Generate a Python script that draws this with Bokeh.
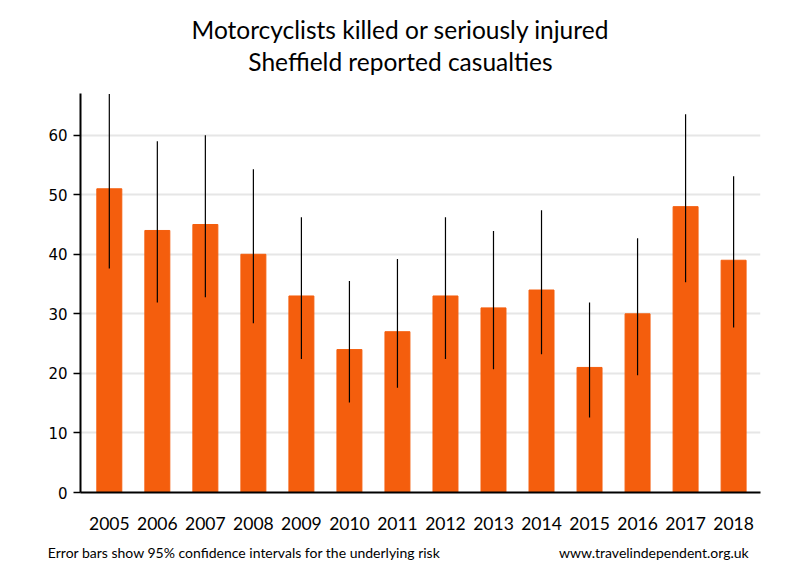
from bokeh.plotting import figure
from bokeh.models import ColumnDataSource, FixedTicker, Range1d, Label, LinearAxis
from bokeh.layouts import column
from bokeh.embed import file_html
from bokeh.resources import INLINE

years = [2005, 2006, 2007, 2008, 2009, 2010, 2011, 2012, 2013, 2014, 2015, 2016, 2017, 2018]
casualties = [51, 44, 45, 40, 33, 24, 27, 33, 31, 34, 21, 30, 48, 39]
ci_low = [37.6, 31.9, 32.8, 28.4, 22.4, 15.1, 17.6, 22.4, 20.7, 23.2, 12.6, 19.7, 35.3, 27.7]
ci_high = [66.9, 59.0, 60.0, 54.3, 46.2, 35.5, 39.2, 46.2, 43.9, 47.4, 31.9, 42.7, 63.5, 53.1]
y_ticks = [0, 10, 20, 30, 40, 50, 60]

title1 = "Motorcyclists killed or seriously injured"
title2 = "Sheffield reported casualties"
note_left = "Error bars show 95% confidence intervals for the underlying risk"
note_right = "www.travelindependent.org.uk"

W = 790
FRAME_L, FRAME_R = 80, 760
font = "Lato"

# header: its frame is aligned with the chart frame by the column layout
header = figure(width=W, height=85, output_backend="svg", toolbar_location=None,
                x_range=Range1d(FRAME_L, FRAME_R), y_range=Range1d(85, 0),
                min_border=0, x_axis_type=None, y_axis_type=None)
header.outline_line_color = None
header.xgrid.visible = False
header.ygrid.visible = False
header.add_layout(Label(x=400, y=29, text=title1, text_align="center", text_baseline="middle",
                        text_font=font, text_font_size="24.5px", text_color="black"))
header.add_layout(Label(x=400, y=61, text=title2, text_align="center", text_baseline="middle",
                        text_font=font, text_font_size="24.5px", text_color="black"))

src = ColumnDataSource(dict(x=years, top=casualties, lo=ci_low, hi=ci_high))

p = figure(width=W, height=490, output_backend="svg", toolbar_location=None,
           x_range=Range1d(2004.4, 2018.56), y_range=Range1d(0, 67),
           min_border_left=80, min_border_right=30, min_border_top=8, min_border_bottom=83)
p.outline_line_color = None

p.vbar(x="x", top="top", width=0.52, source=src, color="#F45E0D")
p.segment(x0="x", x1="x", y0="lo", y1="hi", source=src, line_color="black", line_width=1.2)

p.xgrid.visible = False
p.ygrid.grid_line_color = "#e6e6e6"
p.ygrid.grid_line_width = 2

p.xaxis.ticker = FixedTicker(ticks=years)
p.xaxis.major_tick_line_color = None
p.xaxis.minor_tick_line_color = None
p.xaxis.axis_line_width = 2
p.xaxis.axis_line_color = "black"
p.xaxis.major_label_text_font = font
p.xaxis.major_label_text_font_size = "17.5px"
p.xaxis.major_label_text_color = "black"
p.xaxis.major_label_standoff = 18

p.yaxis.ticker = FixedTicker(ticks=y_ticks)
p.yaxis.minor_tick_line_color = None
p.yaxis.major_tick_in = 0
p.yaxis.major_tick_out = 7
p.yaxis.major_tick_line_width = 1.5
p.yaxis.axis_line_width = 2
p.yaxis.axis_line_color = "black"
p.yaxis.major_label_text_font = "DejaVu Sans"
p.yaxis.major_label_text_font_size = "15px"
p.yaxis.major_label_text_color = "black"
p.yaxis.major_label_standoff = 6

# footer notes as a label-only axis below the year axis (not clipped by the frame)
note_left_pos = 2007.81
note_right_pos = 2016.34
notes = LinearAxis(ticker=FixedTicker(ticks=[note_left_pos, note_right_pos]),
                   major_label_overrides={note_left_pos: note_left, note_right_pos: note_right})
notes.axis_line_color = None
notes.major_tick_line_color = None
notes.minor_tick_line_color = None
notes.major_label_text_font = font
notes.major_label_text_font_size = "14px"
notes.major_label_text_color = "black"
notes.major_label_standoff = 5
p.add_layout(notes, "below")

page = column(header, p, spacing=0)
open("out.html", "w").write(file_html(page, INLINE))
